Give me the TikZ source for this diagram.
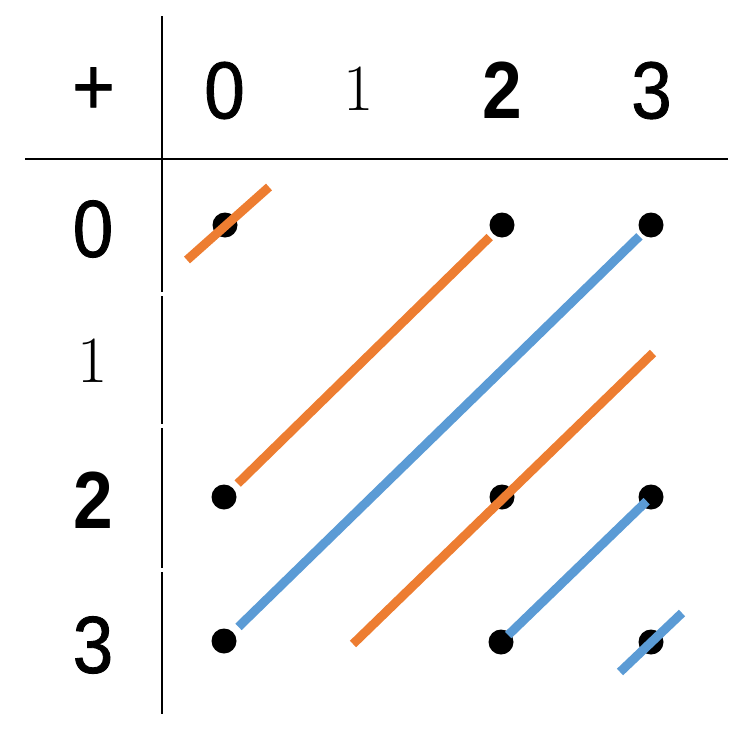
\documentclass[tikz,border=0pt]{standalone}
\usepackage{fontspec}
\usepackage{tikz}
\newfontfamily\arialfont[FakeBold=1,FakeStretch=0.9]{Liberation Sans}
\newfontfamily\arialheavy[FakeStretch=0.88]{Liberation Sans Bold}
\definecolor{pporange}{HTML}{ED7D31}
\definecolor{ppblue}{HTML}{5B9BD5}
\tikzstyle{spot}=[circle,fill=black,minimum size=25pt,inner sep=0pt]
\tikzstyle{digit}=[inner sep=0pt,font=\arialfont\fontsize{81}{81}\selectfont]
\tikzstyle{thinone}=[inner sep=0pt,font=\rmfamily\fontsize{66}{66}\selectfont]
\tikzstyle{rule}=[draw,line width=1.8pt]
\tikzstyle{orangeline}=[draw,pporange,line width=9pt]
\tikzstyle{blueline}=[draw,ppblue,line width=9pt]

\begin{document}
\begin{tikzpicture}[x=1pt,y=-1pt]
    \useasboundingbox (0,0) rectangle (748,734);
    % table rules
    \foreach \from/\to in {16/292, 296/424, 428/568, 572/714}
        \path[rule] (162,\from) -- (162,\to);
    \path[rule] (25,159) -- (728,159);
    % headings
    \node[digit] (plus) at (93.5,91) {+};
    \foreach \pos/\name/\txt in {{(224.5,90.5)/c0/0}, {(502,90)/c2/\arialheavy 2}, {(651.5,90.5)/c3/3}, {(93,229)/r0/0}, {(93,500)/r2/\arialheavy 2}, {(93,645)/r3/3}}
        \node[digit] (\name) at \pos {\txt};
    \node[thinone] (c1) at (359,89) {1};
    \node[thinone] (r1) at (93,361) {1};
    % sums
    \foreach \pos/\name in {{(225,225)/00}, {(502,225)/02}, {(651,225)/03}, {(224,497)/20}, {(502,497)/22}, {(651,497)/23}, {(224,641)/30}, {(501,642)/32}, {(651,642)/33}}
        \node[spot] (\name) at \pos {};
    \coordinate (o1s) at (187,260);
    \coordinate (o1e) at (269,187);
    \coordinate (o3s) at (353,644);
    \coordinate (o3e) at (653,353);
    \coordinate (b3s) at (620,672);
    \coordinate (b3e) at (682,613);
    \path[orangeline] (o1s) -- (o1e);
    \path[orangeline,shorten <=6.5pt,shorten >=4.5pt] (20) -- (02);
    \path[orangeline] (o3s) -- (o3e);
    \path[blueline,shorten <=7.5pt,shorten >=3.5pt] (30) -- (03);
    \path[blueline,shorten <=10pt,shorten >=6pt] (32.center) -- (23.center);
    \path[blueline] (b3s) -- (b3e);
\end{tikzpicture}
\end{document}
